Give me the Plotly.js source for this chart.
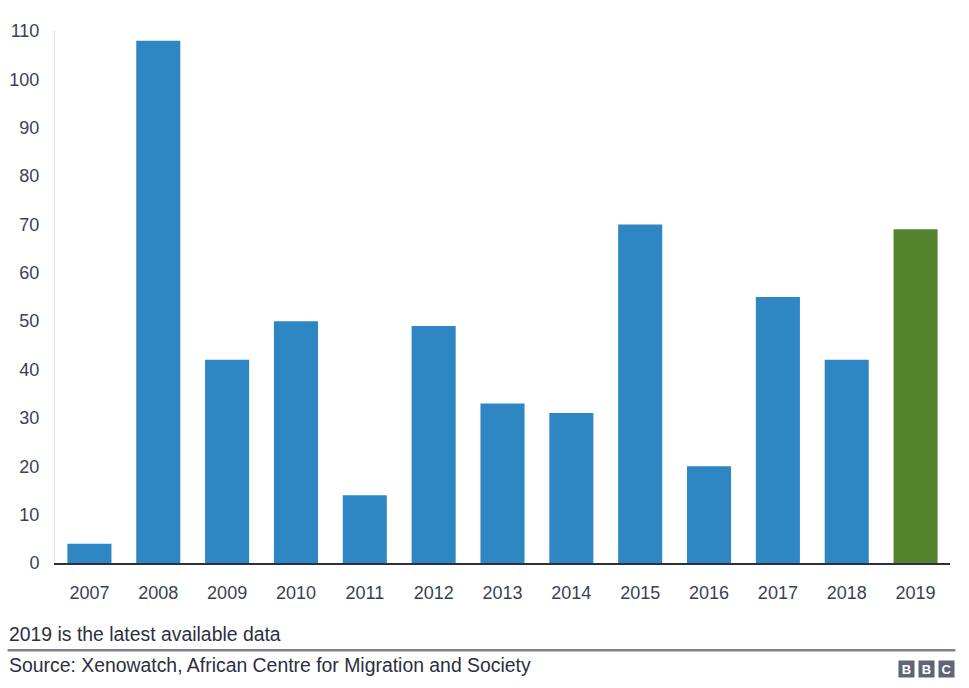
<!DOCTYPE html>
<html>
<head>
<meta charset="utf-8">
<script src="https://cdn.plot.ly/plotly-3.0.1.min.js"></script>
<style>
html,body{margin:0;padding:0;background:#fff;}
#chart{width:969px;height:688px;}
</style>
</head>
<body>
<div id="chart"></div>
<script>
const years = ['2007','2008','2009','2010','2011','2012','2013','2014','2015','2016','2017','2018','2019'];
const incidents = [4,108,42,50,14,49,33,31,70,20,55,42,69];
const barColors = ['#2e87c3','#2e87c3','#2e87c3','#2e87c3','#2e87c3','#2e87c3','#2e87c3','#2e87c3','#2e87c3','#2e87c3','#2e87c3','#2e87c3','#55822c'];
const yTicks = [0,10,20,30,40,50,60,70,80,90,100,110];
const note = '2019 is the latest available data';
const source = 'Source: Xenowatch, African Centre for Migration and Society';

const font = 'Liberation Sans, Arial, Helvetica, sans-serif';
const txt = '#3a3f55';

const data = [{
  type: 'bar',
  x: years,
  y: incidents,
  marker: {color: barColors},
  width: 0.64,
  hoverinfo: 'x+y'
}];

const logoBox = (letter, x) => ({
  text: '<b>' + letter + '</b>', xref: 'paper', yref: 'paper', x: x, y: -0.199,
  xanchor: 'center', yanchor: 'middle', showarrow: false,
  bgcolor: '#5f6577', width: 15, height: 16, borderpad: 0,
  font: {size: 13, color: '#fff', family: font}
});

const layout = {
  width: 969, height: 688,
  margin: {l: 55, r: 19, t: 31, b: 125},
  paper_bgcolor: '#fff', plot_bgcolor: '#fff',
  showlegend: false,
  font: {family: font, color: txt, size: 18},
  xaxis: {
    type: 'category',
    showgrid: false, zeroline: false,
    showline: true, linecolor: '#2b2f3f', linewidth: 2,
    ticks: '', tickfont: {size: 18, color: txt},
    ticklabelstandoff: 12
  },
  yaxis: {
    range: [0, 110],
    tickvals: yTicks,
    ticktext: yTicks.map(String),
    showgrid: false, zeroline: false,
    showline: true, linecolor: '#dde1ec', linewidth: 1,
    ticks: '', tickfont: {size: 18, color: txt},
    ticklabelstandoff: 11
  },
  shapes: [{
    type: 'line', xref: 'paper', yref: 'paper',
    x0: -0.053, x1: 1.006, y0: -0.164, y1: -0.164,
    line: {color: '#7d8190', width: 2.5}
  }],
  annotations: [
    {text: note, xref: 'paper', yref: 'paper', x: -0.052, y: -0.134,
     xanchor: 'left', yanchor: 'middle', showarrow: false, borderpad: 0,
     font: {size: 19.4, color: '#2b2f3f'}},
    {text: source, xref: 'paper', yref: 'paper', x: -0.052, y: -0.191,
     xanchor: 'left', yanchor: 'middle', showarrow: false, borderpad: 0,
     font: {size: 19.4, color: '#2b2f3f'}},
    logoBox('B', 0.951),
    logoBox('B', 0.9735),
    logoBox('C', 0.996)
  ]
};

Plotly.newPlot('chart', data, layout, {displayModeBar: false, staticPlot: true});
</script>
</body>
</html>
